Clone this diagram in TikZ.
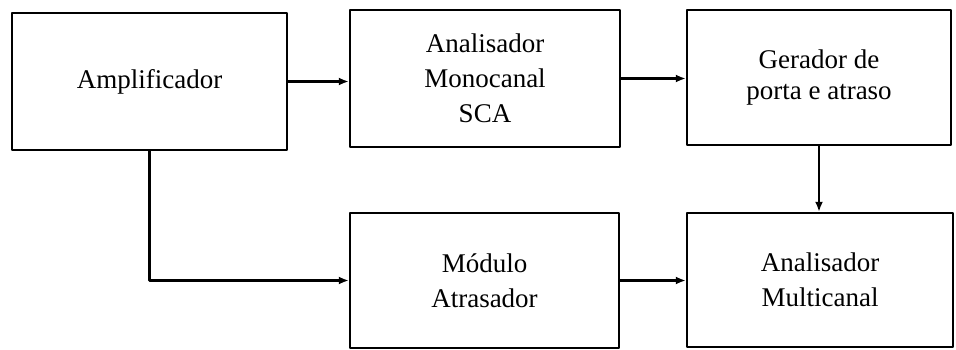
\documentclass[tikz,border=0pt]{standalone}
\usepackage{fontspec}
\setmainfont{Liberation Serif}
\usetikzlibrary{arrows.meta}
\begin{document}
\begin{tikzpicture}[x=1pt, y=-1pt, line width=2.4pt, line join=round,
    caixa/.style={draw, rectangle, align=center, inner sep=0pt,
      font=\fontsize{27}{35}\selectfont},
    seta/.style={-{Latex[length=10pt,width=8pt]}}]
  \useasboundingbox (0,0) rectangle (956,350);
  % os blocos de cima
  \node[caixa, minimum width=275, minimum height=137] (amp) at (149.5,81.5) {Amplificador};
  \node[caixa, minimum width=270, minimum height=137] (sca) at (485,78.5) {Analisador\\Monocanal\\SCA};
  \node[caixa, minimum width=264, minimum height=135] (ger) at (819,77.5)
    {Gerador de\\[-4pt]porta e atraso};
  % os blocos de baixo
  \node[caixa, minimum width=269, minimum height=135] (mod) at (484.5,280.5) {Módulo\\Atrasador};
  \node[caixa, minimum width=266, minimum height=134] (mca) at (820,280) {Analisador\\Multicanal};
  % as ligacoes
  \draw[seta] (amp.east) -- (amp.east -| sca.west);
  \draw[seta] (sca.east) -- (sca.east -| ger.west);
  \draw[seta] (amp.south) |- (mod.west);
  \draw[seta] (mod.east) -- (mod.east -| mca.west);
  \draw[seta] (ger.south) -- (ger.south |- mca.north);
\end{tikzpicture}
\end{document}
